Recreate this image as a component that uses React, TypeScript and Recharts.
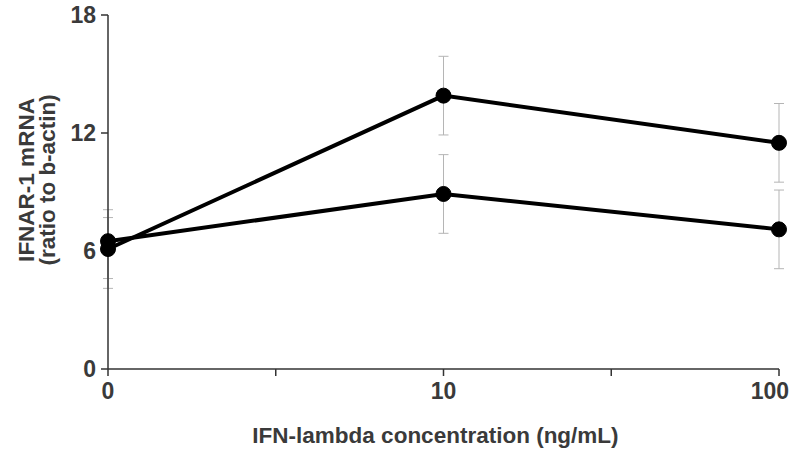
import { LineChart, Line, XAxis, YAxis, ErrorBar, Label } from "recharts";

// x positions are category slots: 0, 10, 100 ng/mL
const concentrations = ["0", "10", "100"];
const slots = [0, 1, 2];
const highSeries = [6.1, 13.9, 11.5];
const highErrors = [2.0, 2.0, 2.0];
const lowSeries = [6.5, 8.9, 7.1];
const lowErrors: [number, number][] = [[1.9, 1.2], [2.0, 2.0], [2.0, 2.0]];
const yTicks = [0, 6, 12, 18];
const xTicks = [0, 0.5, 1, 1.5, 2];

const data = slots.map((s, i) => ({
  pos: s,
  high: highSeries[i],
  highErr: highErrors[i],
  low: lowSeries[i],
  lowErr: lowErrors[i],
}));

const textColor = "#3a3a3a";
const font = "'Liberation Sans', Arial, sans-serif";
const tickStyle = { fill: textColor, fontSize: 23, fontWeight: "bold", fontFamily: font };

function XTick(props: any) {
  const { x, y, payload } = props;
  const v = payload.value;
  if (!Number.isInteger(v)) return null;
  const last = v === slots[slots.length - 1];
  return (
    <text
      x={last ? x + 10 : x}
      y={y}
      dy="0.71em"
      textAnchor={last ? "end" : "middle"}
      {...tickStyle}
    >
      {concentrations[v]}
    </text>
  );
}

function YTitle(props: any) {
  const vb = props.viewBox || { x: 0, y: 0, width: 0, height: 0 };
  const cy = vb.y + vb.height / 2 - 12;
  return (
    <g fontFamily={font} fontWeight="bold" fontSize={22.5} fill={textColor}>
      <text x={34} y={cy} textAnchor="middle" transform={`rotate(-90 34 ${cy})`}>
        IFNAR-1 mRNA
      </text>
      <text x={55} y={cy} textAnchor="middle" transform={`rotate(-90 55 ${cy})`}>
        (ratio to b-actin)
      </text>
    </g>
  );
}

function XTitle(props: any) {
  const vb = props.viewBox || { x: 0, y: 0, width: 0, height: 0 };
  const cx = vb.x + vb.width / 2 - 8;
  return (
    <text
      x={cx}
      y={vb.y + 74}
      textAnchor="middle"
      fontFamily={font}
      fontWeight="bold"
      fontSize={22.5}
      fill={textColor}
    >
      IFN-lambda concentration (ng/mL)
    </text>
  );
}

export default function App() {
  return (
    <div style={{ position: "absolute", left: 0, top: 0, background: "#fff" }}>
      <LineChart
        width={796}
        height={454}
        data={data}
        margin={{ top: 15, right: 17, bottom: 0, left: 0 }}
      >
        <XAxis
          dataKey="pos"
          type="number"
          domain={[0, 2]}
          ticks={xTicks}
          height={85}
          stroke="#333"
          strokeWidth={1.5}
          tickSize={7}
          tickMargin={7}
          tick={XTick}
        >
          <Label content={XTitle} />
        </XAxis>
        <YAxis
          type="number"
          domain={[0, 18]}
          ticks={yTicks}
          width={108}
          stroke="#333"
          strokeWidth={1.5}
          tickSize={7}
          tickMargin={5}
          tick={tickStyle}
        >
          <Label content={YTitle} />
        </YAxis>
        <Line
          dataKey="high"
          stroke="#000"
          strokeWidth={4}
          dot={{ r: 7.5, fill: "#000", stroke: "#000", strokeWidth: 1 }}
          isAnimationActive={false}
        >
          <ErrorBar dataKey="highErr" width={5} stroke="#b5b5b5" strokeWidth={1} />
        </Line>
        <Line
          dataKey="low"
          stroke="#000"
          strokeWidth={4}
          dot={{ r: 7.5, fill: "#000", stroke: "#000", strokeWidth: 1 }}
          isAnimationActive={false}
        >
          <ErrorBar dataKey="lowErr" width={5} stroke="#b5b5b5" strokeWidth={1} />
        </Line>
      </LineChart>
    </div>
  );
}
